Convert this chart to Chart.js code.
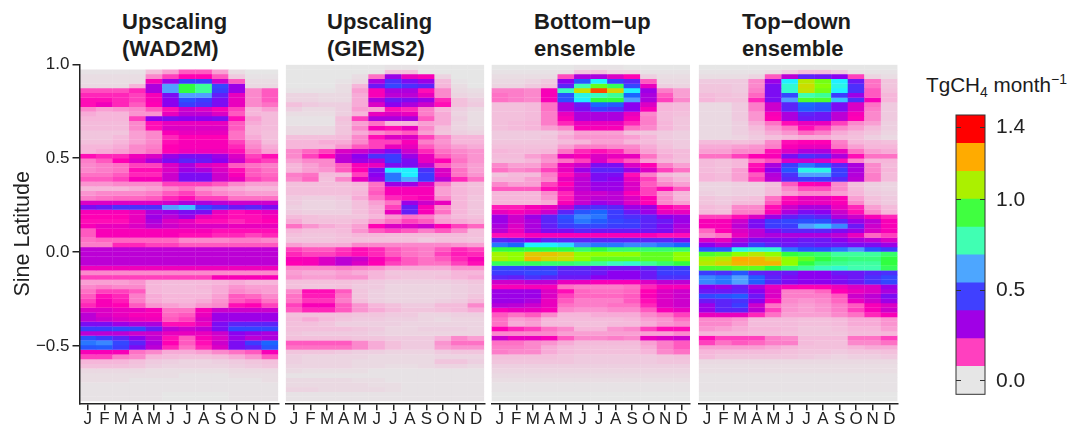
<!DOCTYPE html>
<html><head><meta charset="utf-8">
<script src="https://cdn.jsdelivr.net/npm/chart.js@4"></script>
<style>
html,body{margin:0;padding:0;background:#fff;width:1071px;height:429px;overflow:hidden;font-family:"Liberation Sans",Arial,sans-serif;color:#1c1c1c}
canvas{position:absolute;top:0;filter:blur(0.4px)}
.t{position:absolute;top:8px;font-weight:bold;font-size:22px;line-height:27px;white-space:pre}
#unit{position:absolute;left:926px;top:72px;font-size:20.7px;line-height:26px;white-space:nowrap}
#unit sub,#unit sup{font-size:14px;line-height:0}
</style></head><body>
<div class="t" style="left:122px">Upscaling
(WAD2M)</div>
<div class="t" style="left:327px">Upscaling
(GIEMS2)</div>
<div class="t" style="left:534px">Bottom−up
ensemble</div>
<div class="t" style="left:742px">Top−down
ensemble</div>
<div id="unit">TgCH<sub>4</sub> month<sup>−1</sup></div>
<canvas id="c1" width="290" height="429" style="left:0;width:290px;height:429px"></canvas>
<canvas id="c2" width="215" height="429" style="left:280px;width:215px;height:429px"></canvas>
<canvas id="c3" width="215" height="429" style="left:485px;width:215px;height:429px"></canvas>
<canvas id="c4" width="215" height="429" style="left:692px;width:215px;height:429px"></canvas>
<canvas id="cb" width="120" height="429" style="left:940px;width:120px;height:429px"></canvas>
<script>
const months=['J','F','M','A','M','J','J','A','S','O','N','D'];
const latTop=0.9963, latStep=0.02488;
const yTicks=[-0.5,0,0.5,1];
const barTicks=[0,0.5,1,1.4];
const barEdges=[-0.075,0.079,0.233,0.387,0.541,0.695,0.849,1.003,1.157,1.311,1.468];
const barColors=['#e6e6e6','#ff40bf','#a000e6','#4040ff','#4da6ff','#40ffb3','#40ff40','#abf000','#ffab00','#ff0000'];
// value (hundredths of TgCH4 per month) -> colour stops
const rampValues=[0,3,10,17,25,32,40,50,58,65,72,82,95,105,115,128,145];
const rampColors=['#e6e6e6','#ead9e2','#f6b6da','#ff66c2','#ff00b4','#cc00cc','#8c00f0','#3c3cff','#1a66ff','#50a0ff','#20f0ff','#40ffb0','#30ff40','#90ff00','#c8e000','#ffaa00','#ff2000'];

// rows run north to south, 12 months per row, hundredths of TgCH4/month
const wad2m=[
null,
[1,1,1,1,8,12,18,18,12,2,0,0],
[2,2,2,2,14,20,25,25,18,6,1,1],
[2,2,2,2,26,38,50,50,32,18,2,2],
[3,3,3,10,36,65,95,85,52,38,3,3],
[19,19,19,22,36,65,95,85,50,38,14,18],
[22,22,22,20,26,42,65,65,45,28,14,18],
[24,24,22,20,26,40,54,50,42,28,14,18],
[24,27,22,18,25,40,50,48,42,28,14,16],
[14,12,13,14,18,24,32,30,26,20,10,12],
[11,10,10,13,13,28,34,34,30,18,10,9],
[10,10,10,20,40,42,40,40,42,24,12,9],
[9,9,9,14,24,28,28,28,28,18,11,9],
[9,9,9,14,24,30,30,30,30,18,10,9],
[7,7,7,12,14,26,28,28,28,16,10,8],
[7,7,9,12,14,22,25,25,25,16,11,8],
[8,8,10,12,14,24,26,26,26,20,13,9],
[10,10,11,14,15,25,26,26,26,22,14,11],
[10,11,12,14,16,25,27,27,27,24,16,12],
[24,22,22,27,30,38,42,42,38,30,20,24],
[15,18,25,30,36,42,46,44,40,32,22,20],
[14,15,16,20,20,30,36,30,28,18,16,15],
[14,15,16,24,24,30,38,36,30,24,18,16],
[16,16,18,22,22,32,42,42,32,26,18,17],
[18,18,20,26,26,32,42,42,32,28,20,18],
[13,13,14,14,14,20,20,20,18,14,12,12],
[10,10,10,11,12,14,16,13,12,11,10,10],
[13,14,14,14,15,18,20,16,14,13,12,12],
[15,16,17,17,18,22,24,20,20,16,16,16],
[30,30,30,30,30,32,36,36,34,32,32,32],
[42,44,48,48,48,65,68,52,48,44,46,42],
[26,26,26,28,36,38,42,42,28,24,26,28],
[25,25,25,28,38,34,38,28,26,24,24,26],
[24,24,24,28,36,30,28,24,24,22,24,25],
[26,28,28,30,34,32,30,30,30,28,28,28],
[18,26,26,26,26,26,26,26,24,24,24,24],
[18,26,26,26,26,26,24,24,22,22,20,22],
[16,17,17,17,17,17,14,14,14,15,15,14],
[15,15,22,22,20,20,18,18,18,18,18,18],
[34,34,34,34,34,34,34,34,34,34,34,34],
[34,34,34,34,34,34,34,34,34,34,34,34],
[34,34,34,34,34,34,34,34,34,34,34,34],
[34,34,34,34,34,34,34,34,34,34,34,34],
[27,27,27,27,27,27,27,27,27,27,27,27],
[14,14,14,14,14,14,14,14,14,14,14,14],
[20,20,20,20,20,20,20,20,26,26,26,26],
[12,12,12,13,10,9,9,9,10,11,10,10],
[14,15,14,14,10,9,9,10,11,13,12,12],
[16,20,20,18,10,9,9,9,11,14,13,12],
[18,24,22,15,11,10,10,10,12,18,17,14],
[20,26,23,15,11,10,10,11,13,18,20,16],
[22,26,25,18,13,12,11,13,14,24,25,20],
[30,30,28,28,26,16,16,26,32,32,32,32],
[34,30,28,26,26,17,18,28,38,38,38,38],
[34,32,30,28,27,18,20,30,38,38,38,38],
[42,42,38,36,36,24,24,28,42,46,46,46],
[50,50,52,52,45,34,32,34,42,52,52,52],
[34,34,34,32,32,28,28,28,32,40,38,36],
[54,50,46,40,34,24,18,26,30,38,34,36],
[60,62,52,46,36,25,18,24,32,42,50,58],
[55,56,50,42,34,22,16,22,30,42,45,55],
[26,26,26,16,14,11,11,12,14,16,18,26],
[20,20,15,14,10,9,8,8,9,11,13,18],
[10,10,10,8,6,5,4,4,5,6,7,8],
[8,8,8,7,5,4,4,4,4,5,6,7],
[3,3,3,3,2,2,2,2,2,3,3,3],
[2,2,2,2,2,2,1,1,1,2,2,2],
[2,2,2,1,1,1,1,1,1,1,1,2],
[1,1,1,1,1,1,1,1,1,1,1,1],
[1,1,1,1,1,1,1,1,1,1,1,1],
[1,1,1,1,1,0,0,0,0,1,1,1],
[1,1,1,1,1,0,0,0,0,1,1,1]
];
const giems2=[
[0,0,0,0,0,0,1,1,0,0,0,0],
[0,0,0,0,0,0,8,8,0,0,0,0],
[0,0,0,0,2,16,38,28,26,4,0,0],
[0,0,0,1,3,36,48,42,38,9,1,0],
[0,0,0,2,10,44,52,48,46,10,2,0],
[1,1,1,2,12,26,36,36,24,14,3,2],
[4,4,3,3,11,26,34,34,28,14,4,3],
[4,4,3,3,11,36,44,42,38,22,8,5],
[8,6,5,5,11,30,40,36,32,24,8,6],
[5,3,3,5,12,12,24,22,15,10,5,3],
[2,2,2,5,10,28,30,28,15,11,4,2],
[1,1,1,8,20,36,36,36,18,11,5,2],
[1,1,1,7,12,16,10,10,12,11,4,2],
[3,3,3,7,14,26,24,28,14,8,4,3],
[3,3,3,7,11,14,16,18,12,7,5,4],
[8,8,8,9,14,24,30,30,20,14,10,10],
[10,10,11,11,14,20,20,26,15,13,10,10],
[10,10,10,13,18,20,28,28,18,14,12,11],
[14,17,20,30,32,36,42,32,22,16,14,13],
[14,20,25,34,40,48,50,38,28,18,15,13],
[12,14,14,34,38,36,50,42,28,25,16,13],
[10,12,14,18,26,28,42,42,34,18,14,12],
[10,12,13,18,25,42,72,72,48,30,16,12],
[15,16,9,9,20,40,60,72,50,30,16,13],
[14,17,8,14,28,38,60,66,50,34,22,16],
[8,8,8,8,10,16,38,38,30,15,10,8],
[8,8,8,8,9,17,26,26,26,12,10,8],
[8,8,8,8,10,18,26,26,26,12,10,8],
[6,5,5,6,11,16,22,24,26,14,10,7],
[6,4,4,5,8,12,16,38,32,28,10,7],
[5,4,4,5,8,11,20,45,26,14,10,7],
[6,5,5,5,8,11,28,45,26,16,10,7],
[9,8,7,7,7,10,13,16,15,11,9,8],
[11,8,8,8,10,13,16,20,18,12,11,10],
[16,13,11,10,12,25,30,30,32,25,20,17],
[10,8,8,9,13,18,20,18,15,18,14,8],
[8,7,7,8,10,10,9,9,9,9,9,8],
[7,7,7,8,8,8,8,8,6,8,8,7],
[12,11,11,11,14,14,14,14,14,14,13,12],
[20,18,18,21,24,22,18,16,15,18,22,20],
[22,20,20,22,24,22,18,16,15,20,23,22],
[26,26,30,34,32,26,22,18,16,18,22,26],
[25,26,30,34,30,25,20,18,16,16,20,24],
[14,14,14,15,14,13,11,11,11,11,13,13],
[12,11,11,12,11,10,7,7,7,7,10,10],
[13,12,12,13,13,10,8,7,7,8,10,11],
[8,8,8,8,7,6,5,5,5,5,6,7],
[8,7,7,8,6,6,4,4,4,4,5,6],
[14,24,24,18,7,5,4,4,4,4,5,6],
[16,23,23,16,7,5,4,4,4,4,5,7],
[16,21,21,15,8,5,4,4,4,5,6,9],
[20,26,26,18,13,10,8,6,6,9,9,14],
[18,22,22,18,13,11,9,7,7,8,9,11],
[8,8,8,8,7,7,6,6,4,4,5,5],
[9,11,9,7,6,6,5,5,4,3,4,4],
[8,8,7,5,5,5,5,4,4,4,4,4],
[8,8,8,8,7,6,4,4,5,5,5,4],
[7,6,6,6,6,5,4,4,4,4,4,4],
[8,8,8,8,7,7,6,6,6,10,14,12],
[18,18,18,18,14,11,8,6,6,13,16,16],
[16,16,16,16,14,11,8,6,6,12,13,13],
[7,7,7,6,5,5,4,4,4,6,7,7],
[5,4,4,4,4,3,3,3,3,4,4,4],
[5,4,4,4,3,3,3,3,3,7,7,5],
[4,4,4,4,3,3,2,2,3,4,4,3],
[3,2,2,2,2,1,1,1,1,1,1,1],
[1,1,1,1,1,1,1,1,1,1,1,1],
[3,3,3,3,2,2,1,1,1,1,1,1],
[3,3,3,3,3,2,2,1,1,1,1,1],
[4,4,3,3,3,3,2,1,1,1,1,1],
[1,1,1,1,1,1,1,1,1,1,1,1],
[1,1,1,1,1,1,1,1,1,1,1,1]
];
const bottomUp=[
[0,0,0,0,0,1,1,1,0,0,0,0],
[1,1,1,1,1,7,8,4,4,1,1,1],
[2,2,2,2,19,36,36,30,25,5,2,2],
[3,3,4,6,40,55,72,50,46,18,3,3],
[4,4,6,8,46,82,100,92,52,28,5,4],
[15,15,14,26,80,115,140,118,72,38,15,12],
[16,15,14,26,54,75,80,85,58,36,18,12],
[16,15,14,26,54,72,95,95,65,36,20,14],
[8,8,9,16,36,44,58,56,40,30,10,9],
[8,8,9,16,36,42,50,48,40,26,10,9],
[8,8,9,15,28,36,36,36,28,14,9,8],
[8,8,9,15,26,36,36,36,26,15,9,7],
[8,9,10,15,22,28,28,28,22,15,10,7],
[8,9,10,12,14,26,26,26,16,14,10,7],
[6,6,6,6,9,12,12,12,8,7,6,5],
[6,6,6,7,11,13,13,13,12,10,6,5],
[7,7,7,7,9,10,12,12,10,9,7,6],
[8,8,8,8,12,15,15,14,14,11,8,6],
[10,9,9,10,16,22,24,22,16,12,10,9],
[9,9,12,14,28,26,30,28,28,16,11,9],
[8,8,10,13,16,20,30,22,18,12,10,8],
[14,12,12,16,28,32,42,42,30,25,15,12],
[16,14,15,20,28,38,46,46,38,30,20,16],
[7,9,9,15,24,32,42,42,24,15,9,7],
[10,10,12,14,28,34,42,40,28,20,12,10],
[14,12,12,20,25,34,38,38,30,18,14,12],
[18,18,18,24,28,34,38,38,30,20,24,18],
[10,10,10,14,22,32,32,34,26,20,13,10],
[10,10,10,13,23,32,34,34,30,25,14,10],
[10,10,10,11,26,33,38,36,30,25,14,12],
[23,23,26,28,34,46,48,46,38,38,25,23],
[28,26,28,32,46,55,58,50,44,38,28,28],
[38,32,38,46,54,62,60,50,48,46,40,38],
[38,32,36,46,52,60,56,52,50,46,44,38],
[36,30,36,45,50,52,52,50,50,46,42,36],
[34,28,36,42,42,46,44,44,44,44,42,34],
[24,24,26,26,26,26,26,26,26,26,24,24],
[46,44,40,46,46,46,46,46,46,46,46,42],
[60,58,72,72,70,62,60,60,62,62,60,58],
[95,95,95,95,95,90,95,90,90,90,90,90],
[108,105,120,122,118,105,105,105,105,100,100,105],
[110,105,125,118,115,105,100,100,100,100,100,105],
[92,92,92,90,90,88,85,80,78,85,90,95],
[52,52,50,50,46,46,44,44,44,46,50,50],
[50,50,52,52,46,46,44,40,40,44,50,50],
[46,45,48,46,44,44,40,40,40,44,48,48],
[32,32,34,34,28,28,26,26,26,30,34,34],
[26,26,26,26,16,15,15,15,16,22,26,26],
[38,38,38,30,24,17,16,16,17,25,30,32],
[38,38,38,30,20,17,17,17,18,26,30,32],
[38,38,36,28,18,15,15,15,18,24,30,32],
[35,34,32,28,16,15,15,16,16,22,30,32],
[26,28,28,26,14,13,13,14,14,18,26,28],
[18,16,18,14,10,10,11,11,11,14,16,20],
[16,12,13,10,9,9,9,9,10,12,13,16],
[16,11,12,9,9,8,8,9,9,11,13,14],
[25,22,20,16,14,10,10,13,14,20,24,24],
[14,14,14,14,12,12,12,12,12,12,12,14],
[32,28,28,26,18,14,14,15,14,28,30,32],
[16,16,14,13,11,9,9,9,9,12,15,18],
[15,15,14,11,9,8,8,8,8,11,15,18],
[15,14,14,11,9,8,8,8,8,10,14,16],
[8,8,8,8,7,6,6,6,6,6,7,8],
[7,7,7,7,7,6,6,6,6,6,7,7],
[5,5,5,5,5,5,5,5,5,5,5,5],
[4,4,4,4,4,4,4,4,4,4,4,4],
[3,3,3,3,3,3,3,3,3,3,3,3],
[2,2,2,2,2,2,2,2,2,2,2,2],
[1,1,1,1,1,1,1,1,1,1,1,1],
[1,1,1,1,1,1,1,1,1,1,1,1],
[0,0,0,0,0,0,0,0,0,0,0,0],
[0,0,0,0,0,0,0,0,0,0,0,0]
];
const topDown=[
[0,0,0,0,0,0,0,0,0,0,0,0],
[1,1,1,1,2,5,9,9,6,1,1,1],
[2,2,2,4,18,34,46,44,40,20,4,2],
[6,6,6,14,38,72,112,102,72,44,16,7],
[7,7,6,14,42,78,116,104,75,48,16,7],
[7,7,6,15,42,78,114,102,72,48,18,8],
[9,8,7,17,42,52,82,85,50,38,18,10],
[10,8,8,22,42,65,98,98,68,48,26,10],
[3,3,6,15,32,46,58,55,42,30,16,6],
[3,3,6,15,32,46,56,54,42,30,15,6],
[3,3,6,13,26,36,46,44,34,26,14,6],
[3,3,6,13,25,36,44,44,34,25,14,6],
[3,3,5,11,16,24,28,28,20,14,12,5],
[3,3,5,9,13,16,24,20,14,12,9,5],
[3,3,5,7,11,13,17,15,11,9,7,4],
[3,3,4,6,8,10,11,11,9,8,5,3],
[9,9,8,9,14,24,25,25,15,10,9,8],
[11,11,12,13,15,26,28,28,16,12,10,10],
[12,12,14,14,24,30,36,36,28,16,12,11],
[16,16,20,25,26,42,48,46,36,24,16,16],
[9,8,10,16,19,30,32,30,24,14,10,10],
[9,8,10,24,36,50,60,55,46,36,14,9],
[9,8,12,26,40,55,75,75,50,36,14,10],
[10,9,12,18,35,48,65,65,50,35,15,9],
[10,9,12,20,34,46,50,50,46,34,15,9],
[4,4,5,5,8,18,25,26,14,8,5,4],
[4,4,5,5,9,14,19,19,14,9,5,4],
[5,4,5,5,9,12,14,14,12,10,6,5],
[7,6,7,8,16,24,28,28,25,12,8,6],
[7,6,9,9,18,26,28,28,26,14,8,6],
[9,8,14,14,24,32,36,36,28,22,12,9],
[9,8,15,15,26,36,42,40,32,24,14,10],
[20,20,24,30,38,45,48,46,36,32,26,22],
[26,26,32,42,50,52,54,54,46,38,34,26],
[26,26,34,42,50,50,65,68,62,44,32,26],
[17,25,30,34,42,46,46,46,42,38,30,26],
[14,16,28,34,36,36,36,36,34,28,17,20],
[30,28,36,42,42,42,44,44,40,36,34,30],
[40,36,42,50,46,44,46,44,44,42,42,38],
[55,56,75,78,78,60,55,55,60,64,55,50],
[98,100,105,112,105,95,92,90,84,84,84,90],
[108,112,128,125,118,105,100,95,90,88,88,95],
[112,118,125,125,125,105,95,88,86,84,84,95],
[98,98,100,100,95,88,85,80,78,82,82,92],
[50,48,55,46,44,44,40,40,44,44,46,48],
[62,60,65,56,46,42,40,40,42,44,48,52],
[62,60,65,56,46,42,40,40,42,44,48,52],
[40,38,44,36,28,26,25,25,27,30,30,38],
[44,44,46,40,30,15,15,17,25,28,30,36],
[52,54,56,44,30,15,15,15,18,32,34,42],
[44,46,48,40,26,14,13,14,17,28,32,38],
[38,46,50,32,16,13,12,13,15,18,26,30],
[38,46,46,34,20,13,12,13,15,20,26,32],
[28,28,28,22,16,12,12,12,14,16,22,26],
[14,14,13,9,9,9,8,8,9,11,11,13],
[14,14,12,9,9,9,8,8,9,11,11,13],
[13,12,11,10,10,9,7,7,8,10,10,12],
[10,10,10,9,9,8,7,7,7,9,9,10],
[24,20,20,20,15,14,9,9,9,16,16,20],
[20,16,18,17,15,15,9,8,8,14,14,16],
[12,12,12,12,11,10,8,8,8,10,11,11],
[10,9,9,9,9,8,7,7,6,7,7,8],
[9,7,7,7,7,7,6,5,4,5,5,6],
[3,3,3,3,3,3,3,3,3,3,3,3],
[2,2,2,2,2,2,2,2,2,2,2,2],
[2,2,2,2,2,2,2,2,2,2,2,2],
[1,1,1,1,1,1,1,1,1,1,1,1],
[1,1,1,1,1,1,1,1,1,1,1,1],
[1,1,1,1,1,1,1,1,1,1,1,1],
[1,1,1,1,1,1,1,1,1,1,1,1],
[0,0,0,0,0,0,0,0,0,0,0,0],
[0,0,0,0,0,0,0,0,0,0,0,0]
];

const hex=h=>[1,3,5].map(i=>parseInt(h.slice(i,i+2),16));
function colorOf(v){
  let k=0; while(k<rampValues.length-2&&v>rampValues[k+1])k++;
  const f=Math.min(1,Math.max(0,(v-rampValues[k])/(rampValues[k+1]-rampValues[k])));
  const a=hex(rampColors[k]),b=hex(rampColors[k+1]);
  return 'rgb('+a.map((c,i)=>Math.round(c+(b[i]-c)*f)).join(',')+')';
}
const INK='#222';
const FONT='"Liberation Sans",Arial,sans-serif';
Chart.defaults.font.family=FONT;
Chart.defaults.color=INK;

function panel(id,rows,opt){
  const datasets=[];
  rows.forEach((row,i)=>{
    if(!row)return;
    const hi=latTop-i*latStep+0.0015, lo=latTop-(i+1)*latStep;
    datasets.push({data:row.map(()=>[lo,hi]),backgroundColor:row.map(colorOf),borderWidth:0,barPercentage:1.02,categoryPercentage:1,grouped:false});
  });
  new Chart(document.getElementById(id),{
    type:'bar',
    data:{labels:months,datasets},
    options:{
      responsive:false,animation:false,events:[],
      layout:{padding:{top:64.3,left:opt.padLeft,right:opt.padRight,bottom:0}},
      plugins:{legend:{display:false},title:{display:false},tooltip:{enabled:false}},
      scales:{
        x:{type:'category',offset:true,
          grid:{drawOnChartArea:false,tickLength:7,color:INK,lineWidth:1.5,offset:false,tickColor:INK},
          border:{display:true,color:INK,width:1.5,z:1},
          ticks:{autoSkip:false,maxRotation:0,minRotation:0,padding:-1,font:{size:17},color:INK},
          afterFit:s=>{s.height=25.7}},
        y:{display:opt.showY,min:-0.806,max:1,
          afterBuildTicks:s=>{s.ticks=yTicks.map(v=>({value:v}))},
          grid:{drawOnChartArea:false,tickLength:7,color:INK,lineWidth:1.5},
          border:{display:true,color:INK,width:1.5,z:1},
          ticks:{padding:3,font:{size:17},color:INK,callback:v=>v.toFixed(1).replace('-','−')},
          title:{display:opt.showY,text:'Sine Latitude',font:{size:21.5},color:INK,padding:{top:10,bottom:0}},
          afterFit:s=>{if(opt.showY)s.width=79.5}}
      }
    }
  });
}
panel('c1',wad2m,{showY:true,padLeft:0,padRight:11.7});
panel('c2',giems2,{showY:false,padLeft:5.7,padRight:10.7});
panel('c3',bottomUp,{showY:false,padLeft:6.5,padRight:10});
panel('c4',topDown,{showY:false,padLeft:6.7,padRight:9.4});

const outline={id:'outline',afterDraw(c){const a=c.chartArea,x=c.ctx;x.save();x.strokeStyle='#333';x.lineWidth=1;x.strokeRect(a.left,a.top,a.right-a.left,a.bottom-a.top);x.restore();}};
new Chart(document.getElementById('cb'),{
  type:'bar',
  data:{labels:[''],datasets:barColors.map((col,i)=>({data:[[barEdges[i],barEdges[i+1]]],backgroundColor:col,borderWidth:0,barPercentage:1,categoryPercentage:1,grouped:false}))},
  options:{
    responsive:false,animation:false,events:[],
    layout:{padding:{top:115,left:16,right:0,bottom:34.7}},
    plugins:{legend:{display:false},tooltip:{enabled:false}},
    scales:{
      x:{display:false},
      y:{position:'right',min:-0.075,max:1.468,
        afterBuildTicks:s=>{s.ticks=barTicks.map(v=>({value:v}))},
        grid:{drawOnChartArea:true,drawTicks:false,color:'#333',lineWidth:1,z:1},
        border:{display:false,dash:[5,19,5]},
        ticks:{padding:11,font:{size:21},color:INK,callback:v=>v.toFixed(1)},
        afterFit:s=>{s.width=75}}
    }
  },
  plugins:[outline]
});
</script>
</body></html>
